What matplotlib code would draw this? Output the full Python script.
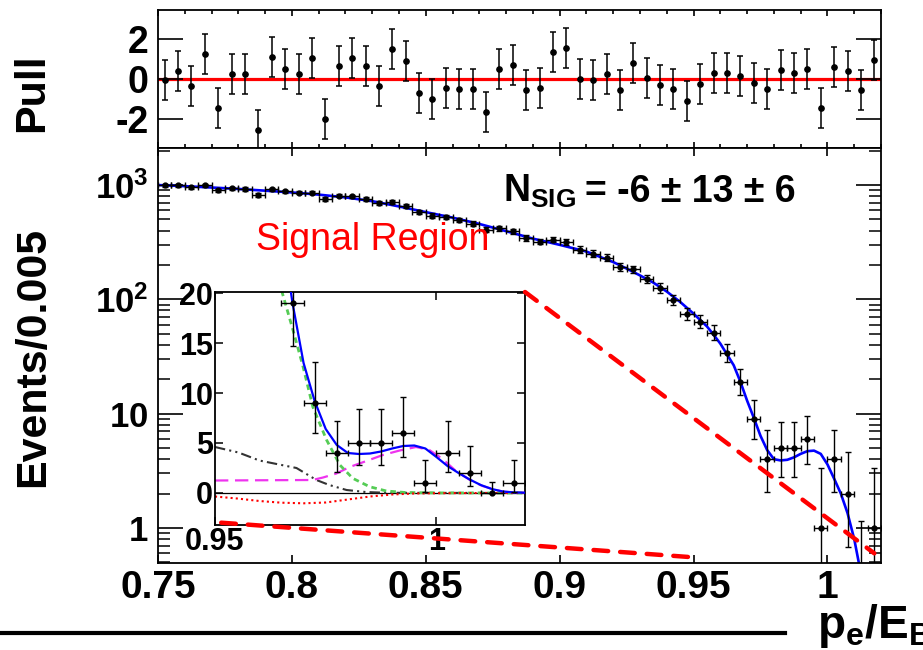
import numpy as np
import matplotlib.pyplot as plt
from matplotlib.patches import ConnectionPatch
from matplotlib.lines import Line2D
from matplotlib.ticker import NullFormatter, LogLocator, MultipleLocator

plt.rcParams['font.family'] = 'Liberation Sans'
plt.rcParams['font.weight'] = 'bold'
plt.rcParams['mathtext.fontset'] = 'custom'
plt.rcParams['mathtext.rm'] = 'Liberation Sans'
plt.rcParams['mathtext.bf'] = 'Liberation Sans:bold'
plt.rcParams['mathtext.it'] = 'Liberation Sans:italic'
plt.rcParams['axes.unicode_minus'] = False

# 54 bins of 0.005 between 0.75 and 1.02
x_bins = np.round(0.7525 + 0.005 * np.arange(54), 4)
counts = np.array([992, 994, 959, 995, 899, 936, 921, 822, 915, 882,
                   858, 860, 752, 809, 796, 756, 697, 706, 655, 580,
                   540, 525, 493, 460, 406, 419, 395, 343, 320, 333,
                   318, 273, 251, 231, 192, 183, 150, 126, 99, 74,
                   64, 51, 34, 19, 9, 4, 5, 5, 6, 1,
                   4, 2, 0, 1])
pull = np.array([-0.05, 0.4, -0.33, 1.25, -1.43, 0.27, 0.27, -2.53, 1.08, 0.48,
                 0.27, 1.03, -2.02, 0.67, 1.05, 0.63, -0.33, 1.48, 0.92, -0.68,
                 -1.0, -0.43, -0.48, -0.48, -1.63, 0.48, 0.7, -0.55, -0.47, 1.33,
                 1.55, 0.0, -0.07, 0.27, -0.55, 0.78, 0.03, -0.3, -0.5, -1.12,
                 -0.27, 0.3, 0.28, 0.15, -0.18, -0.48, 0.45, 0.32, 0.52, -1.43,
                 0.62, 0.38, -0.53, 0.95])

# total fit (blue)
fit_x = [0.750, 0.760, 0.770, 0.780, 0.790, 0.800, 0.810, 0.820, 0.830, 0.840,
         0.850, 0.860, 0.870, 0.880, 0.890, 0.900, 0.910, 0.920, 0.925, 0.930,
         0.935, 0.940, 0.945, 0.950, 0.955, 0.9575, 0.960, 0.9625, 0.965, 0.9675,
         0.970, 0.9725, 0.975, 0.9775, 0.980, 0.9825, 0.985, 0.9875, 0.990, 0.9925,
         0.995, 0.9975, 1.000, 1.0025, 1.005, 1.0075, 1.010, 1.0125, 1.015, 1.0175, 1.020]
fit_y = [1000, 978, 952, 925, 893, 862, 825, 780, 723, 650,
         580, 519, 457, 395, 340, 300, 262, 212, 186, 162,
         140, 117, 95, 75, 58, 49, 41, 33, 26.5, 19,
         13, 9.2, 6.4, 4.8, 4.0, 3.9, 3.95, 4.15, 4.45, 4.7,
         4.75, 4.45, 3.6, 2.7, 2.0, 1.35, 0.8, 0.4, 0.15, 0.06, 0.03]

# components shown in the inset
green_x = [0.963, 0.9652, 0.9678, 0.9699, 0.9721, 0.9752, 0.9782, 0.9811, 0.9849, 0.9887, 0.993, 1.000, 1.020]
green_y = [25, 20, 16, 12.6, 8.6, 5.3, 2.8, 1.47, 0.63, 0.2, 0.05, 0.01, 0.0]
mag_x = [0.950, 0.972, 0.9744, 0.9774, 0.9804, 0.9842, 0.9879, 0.9917, 0.9954, 0.9984,
         1.0014, 1.0044, 1.0074, 1.0104, 1.0149, 1.020]
mag_y = [1.25, 1.3, 1.55, 1.95, 2.6, 3.2, 3.8, 4.25, 4.6, 4.3,
         3.4, 2.2, 1.35, 0.7, 0.12, 0.02]
blk_x = [0.950, 0.9553, 0.960, 0.9684, 0.9729, 0.9758, 0.9797, 0.984, 0.9887, 1.020]
blk_y = [4.6, 4.05, 3.25, 2.5, 1.3, 0.8, 0.3, 0.1, 0.02, 0.0]
sig_x = [0.950, 0.955, 0.960, 0.965, 0.970, 0.975, 0.980, 0.985, 0.990, 0.995, 1.000, 1.010, 1.020]
sig_y = [-0.35, -0.55, -0.80, -0.97, -1.03, -0.95, -0.65, -0.35, -0.15, -0.05, -0.02, 0.0, 0.0]

# ends of the zoom lines on the main plot
zoom_lo = (0.9485, 0.557)
zoom_hi = (1.0175, 0.60)

# poisson error bars
n = counts.astype(float)
err_lo = np.where(n > 0, np.sqrt(np.clip(n - 0.25, 0, None)), 0.0)
err_hi = np.where(n > 0, np.sqrt(n + 0.75) + 1.0, 1.15)

W, H = 923, 650
fig = plt.figure(figsize=(W / 100, H / 100), dpi=100)


def box(l, t, r, b):
    return [l / W, 1 - b / H, (r - l) / W, (b - t) / H]


ax_p = fig.add_axes(box(158, 10, 881, 148))
ax_m = fig.add_axes(box(158, 148, 881, 563))
ax_i = fig.add_axes(box(215, 292, 525, 525))

for ax in (ax_p, ax_m, ax_i):
    for s in ax.spines.values():
        s.set_linewidth(1.3)

# ---- pull panel
ax_p.axhline(0, color='red', lw=2.3, zorder=1)
ax_p.errorbar(x_bins, pull, yerr=1, fmt='o', ms=3.8, color='black',
              elinewidth=1.1, capsize=2.5, capthick=1.1, zorder=3)
ax_p.set_xlim(0.75, 1.02)
ax_p.set_ylim(-3.45, 3.45)
ax_p.set_yticks([-2, 0, 2], ['-2', '0', '2'])
ax_p.set_xticks([0.75, 0.8, 0.85, 0.9, 0.95, 1.0])
ax_p.xaxis.set_minor_locator(MultipleLocator(0.01))
ax_p.tick_params(axis='y', direction='in', length=18, width=1.2, left=True, right=True,
                 labelsize=27, pad=7)
ax_p.tick_params(axis='x', which='both', direction='in', top=True, bottom=True,
                 labelbottom=False, width=1.2)
ax_p.tick_params(axis='x', which='major', length=4.5)
ax_p.tick_params(axis='x', which='minor', length=3)

# ---- main panel
ax_m.set_yscale('log')
ax_m.plot(fit_x, fit_y, color='#0000ff', lw=1.9, zorder=2)
ax_m.errorbar(x_bins, counts, xerr=0.0025, yerr=[err_lo, err_hi], fmt='o', ms=3.5,
              color='black', elinewidth=1.0, capsize=2.5, capthick=1.0, zorder=3)
ax_m.set_xlim(0.75, 1.02)
ax_m.set_ylim(0.494, 2110)
ax_m.set_yticks([1, 10, 100, 1000],
                [r'$\mathbf{1}$', r'$\mathbf{10}$', r'$\mathbf{10^{2}}$', r'$\mathbf{10^{3}}$'])
ax_m.yaxis.set_minor_locator(LogLocator(base=10, subs=np.arange(2, 10)))
ax_m.yaxis.set_minor_formatter(NullFormatter())
ax_m.set_xticks([0.75, 0.8, 0.85, 0.9, 0.95, 1.0], ['0.75', '0.8', '0.85', '0.9', '0.95', '1'])
ax_m.tick_params(axis='y', which='major', direction='in', length=18, width=1.2,
                 left=True, right=True, labelsize=25, pad=7)
ax_m.tick_params(axis='y', which='minor', direction='in', length=8.6, width=1.1,
                 left=True, right=True)
ax_m.tick_params(axis='x', direction='in', length=6, width=1.2, top=True, bottom=True,
                 labelsize=28, pad=5)

# ---- inset
ax_i.axhline(0, color='black', lw=0.9, zorder=1)
ax_i.plot(blk_x, blk_y, color='#333333', ls=(0, (5, 2, 1, 2, 1, 2)), lw=1.5, zorder=2)
ax_i.plot(mag_x, mag_y, color='#ee33ee', ls=(0, (6, 3)), lw=1.6, zorder=2)
ax_i.plot(green_x, green_y, color='#55cc55', ls=(0, (2, 1.5)), lw=2.0, zorder=2)
ax_i.plot(sig_x, sig_y, color='red', ls=(0, (1, 1.5)), lw=1.5, zorder=2)
ax_i.plot(fit_x, fit_y, color='#0000ff', lw=1.6, zorder=3)
ax_i.errorbar(x_bins, counts, xerr=0.0025, yerr=[err_lo, err_hi], fmt='o', ms=3.5,
              color='black', elinewidth=1.0, capsize=2.5, capthick=1.0, zorder=4)
ax_i.set_xlim(0.95, 1.02)
ax_i.set_ylim(-3.2, 20.1)
ax_i.set_yticks([0, 5, 10, 15, 20], ['0', '5', '10', '15', '20'])
ax_i.set_xticks([0.95, 1.0], ['0.95', '1'])
ax_i.tick_params(direction='in', length=6, width=1.1, top=True, right=True,
                 labelsize=22, pad=1.5)

# zoom lines
for xyA, xyB in (((1, 1), zoom_hi), ((0.02, 0.01), zoom_lo)):
    con = ConnectionPatch(xyA=xyA, coordsA=ax_i.transAxes, xyB=xyB, coordsB=ax_m.transData,
                          color='red', lw=3.2, ls=(0, (3.3, 2.7)), zorder=10)
    fig.add_artist(con)

# texts
fig.text(503 / W, 1 - 202 / H, r'$\mathbf{N}_{\mathrm{SIG}}$', fontsize=27, va='baseline')
fig.text(585 / W, 1 - 202 / H, '= -6 \u00b1 13 \u00b1 6', fontsize=27, va='baseline')
fig.text(256 / W, 1 - 250 / H, 'Signal Region', fontsize=27, color='red',
         fontweight='normal', va='baseline')
fig.text(32 / W, 1 - 93 / H, 'Pull', fontsize=31, rotation=90, ha='center', va='center')
fig.text(33 / W, 1 - 357 / H, 'Events/0.005', fontsize=31, rotation=90, ha='center', va='center')
fig.text(817 / W, 1 - 638 / H, r'$\mathbf{p_{e}/E_{B}}$', fontsize=33, va='baseline')
fig.add_artist(Line2D([0, 785 / W], [1 - 633 / H, 1 - 633 / H], color='black', lw=3,
                      transform=fig.transFigure))

fig.savefig('out.png', dpi=100)
